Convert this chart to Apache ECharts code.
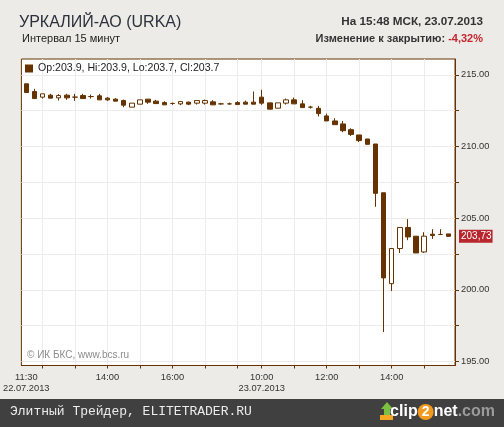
<!DOCTYPE html>
<html><head><meta charset="utf-8">
<script src="https://cdn.jsdelivr.net/npm/echarts@6/dist/echarts.min.js"></script>
<style>html,body{margin:0;padding:0;background:#ecebe7}#c{width:504px;height:427px}</style>
</head><body><div id="c"></div>
<script>
// ---- data ----
const times = ['11:30','11:45','12:00','12:15','12:30','12:45','13:00','13:15','13:30','13:45','14:00','14:15','14:30','14:45','15:00','15:15','15:30','15:45','16:00','16:15','16:30','16:45','17:00','17:15','17:30','17:45','18:00','18:15','18:30',
               '10:00','10:15','10:30','10:45','11:00','11:15','11:30','11:45','12:00','12:15','12:30','12:45','13:00','13:15','13:30','13:45','14:00','14:15','14:30','14:45','15:00','15:15','15:30','15:45'];
const opens  = [214.37,213.83,213.44,213.58,213.39,213.58,213.44,213.55,213.48,213.53,213.37,213.30,213.20,212.74,212.95,213.30,213.16,213.06,213.00,212.97,213.09,213.02,213.02,213.11,212.97,212.97,213.06,213.09,213.09,
                213.44,213.04,212.67,213.02,213.25,212.97,212.74,212.66,212.13,211.78,211.57,211.17,210.80,210.52,210.17,206.77,200.43,202.88,204.35,203.74,202.64,203.88,203.86,203.90];
const closes = [213.76,213.34,213.67,213.37,213.55,213.39,213.44,213.34,213.48,213.25,213.25,213.16,212.88,213.02,213.25,213.09,212.99,212.90,213.00,213.13,212.95,213.20,213.20,212.90,212.97,212.97,212.92,212.95,212.95,
                213.02,212.60,213.04,213.25,212.97,212.71,212.74,212.29,211.78,211.52,211.10,210.84,210.41,210.15,206.73,200.83,202.88,204.35,203.69,202.57,203.74,203.79,203.86,203.73];
const lows   = [213.76,213.34,213.34,213.37,213.20,213.25,213.18,213.34,213.34,213.25,213.18,213.16,212.74,212.74,212.95,212.97,212.99,212.90,212.90,212.88,212.88,212.92,212.92,212.90,212.92,212.92,212.92,212.95,212.95,
                212.90,212.60,212.67,212.92,212.97,212.71,212.64,212.09,211.78,211.52,210.99,210.73,210.31,210.15,205.79,197.05,199.92,202.57,203.46,202.57,202.57,203.55,203.86,203.70];
const highs  = [214.37,214.02,213.67,213.67,213.65,213.67,213.67,213.67,213.62,213.67,213.44,213.37,213.27,213.02,213.25,213.30,213.25,213.16,213.06,213.13,213.13,213.20,213.27,213.23,213.04,213.06,213.16,213.20,213.83,
                213.95,213.04,213.04,213.34,213.41,213.23,212.83,212.83,212.29,211.97,211.78,211.27,210.80,210.52,210.17,206.77,202.88,204.35,204.93,203.74,204.02,204.23,204.23,203.90];
const xLabelIdx = [0, 10, 18, 29, 37, 45];
const dateIdx = [0, 29];
const dateLabels = ['22.07.2013', '23.07.2013'];
const yTicks = [195, 197.5, 200, 202.5, 205, 207.5, 210, 212.5, 215];
const yLabels = [195, 200, 205, 210, 215];
const lastPrice = 203.73;
const lastPriceText = '203,73';
const legendText = 'Op:203.9, Hi:203.9, Lo:203.7, Cl:203.7';
const titleText = 'УРКАЛИЙ-АО (URKA)';
const intervalText = 'Интервал 15 минут';
const timeText = 'На 15:48 МСК, 23.07.2013';
const changeLabel = 'Изменение к закрытию: ';
const changeValue = '-4,32%';

// ---- build ----
const hourIdx = times.map((t, i) => t.endsWith(':00') ? i : -1).filter(i => i >= 0);
const candles = times.map((t, i) => [i, opens[i], closes[i], lows[i], highs[i]]);
const BROWN = '#663300';
const FONT = 'Liberation Sans';

const chart = echarts.init(document.getElementById('c'), null, {renderer: 'canvas'});
chart.setOption({
  animation: false,
  backgroundColor: '#ecebe7',
  title: [
    {text: titleText, left: 19, top: 15, padding: 0, textStyle: {fontFamily: FONT, fontSize: 16, fontWeight: 'normal', color: '#2c313b'}},
    {text: intervalText, left: 22, top: 33, padding: 0, textStyle: {fontFamily: FONT, fontSize: 11, fontWeight: 'normal', color: '#222'}},
    {text: timeText, right: 21, top: 16, padding: 0, textStyle: {fontFamily: FONT, fontSize: 11.7, fontWeight: 'bold', color: '#333'}},
    {text: '{a|' + changeLabel + '}{b|' + changeValue + '}', right: 21, top: 33, padding: 0,
     textStyle: {rich: {a: {fontFamily: FONT, fontSize: 11, color: '#333'}, b: {fontFamily: FONT, fontSize: 11, color: '#c4262e'}}}},
    {text: '© ИК БКС, www.bcs.ru', left: 27, top: 350, padding: 0, textStyle: {fontFamily: FONT, fontSize: 10, fontWeight: 'normal', color: '#8c8c8c'}},
    {text: 'Элитный Трейдер, ELITETRADER.RU', left: 10, top: 405, padding: 0, textStyle: {fontFamily: 'Liberation Mono', fontSize: 13, fontWeight: 'normal', color: '#ececec'}},
    {text: '{c|clip}{n|2}{d|net}{e|.com}', right: 9, top: 404, padding: 0,
     textStyle: {rich: {
       c: {fontFamily: FONT, fontSize: 16, fontWeight: 'bold', color: '#ffffff'},
       n: {fontFamily: FONT, fontSize: 14, fontWeight: 'bold', color: '#ffffff', backgroundColor: '#f39a1e', borderRadius: 8, width: 16, height: 16, align: 'center'},
       d: {fontFamily: FONT, fontSize: 16, fontWeight: 'bold', color: '#ffffff'},
       e: {fontFamily: FONT, fontSize: 16, fontWeight: 'bold', color: '#9a9a9a'}}}}
  ],
  graphic: [
    {type: 'rect', z: -1, shape: {x: 0, y: 399, width: 504, height: 28}, style: {fill: '#404040'}},
    {type: 'polygon', shape: {points: [[387, 402], [393, 409], [390, 409], [390, 415], [384, 415], [384, 409], [381, 409]]}, style: {fill: '#7bc043'}},
    {type: 'rect', shape: {x: 380, y: 415, width: 13, height: 5}, style: {fill: '#f5a623'}}
  ],
  legend: {
    left: 20, top: 58, padding: 5, itemWidth: 8, itemHeight: 8, itemGap: 5,
    textStyle: {fontFamily: FONT, fontSize: 10.6, color: '#222'},
    data: [{name: legendText, icon: 'rect', itemStyle: {color: BROWN, borderWidth: 0}}],
    selectedMode: false
  },
  grid: {left: 21, right: 49, top: 59, height: 306.5, show: true, backgroundColor: '#ffffff', borderColor: BROWN, borderWidth: 1},
  xAxis: {
    type: 'value', min: -0.6, max: 52.8,
    axisLine: {show: true, onZero: false, lineStyle: {color: BROWN, width: 1}},
    axisTick: {show: true, inside: false, length: 3, customValues: hourIdx, lineStyle: {color: BROWN}},
    axisLabel: {customValues: xLabelIdx, margin: 6, fontFamily: FONT, fontSize: 9.3, color: '#333', lineHeight: 11,
      formatter: v => { const i = Math.round(v); const d = dateIdx.indexOf(i); return times[i] + (d >= 0 ? '\n' + dateLabels[d] : ''); }},
    splitLine: {show: true, lineStyle: {color: '#ececec', width: 1}}
  },
  yAxis: {
    type: 'value', position: 'right', min: 194.72, max: 216.1,
    axisLine: {show: true, onZero: false, lineStyle: {color: BROWN, width: 1}},
    axisTick: {show: true, inside: false, length: 4, customValues: yTicks, lineStyle: {color: BROWN}},
    axisLabel: {customValues: yLabels, margin: 6, fontFamily: FONT, fontSize: 9.3, color: '#333', formatter: v => v.toFixed(2)},
    splitLine: {show: true, lineStyle: {color: '#ececec', width: 1}}
  },
  series: [{
    name: legendText,
    type: 'candlestick',
    data: candles,
    encode: {x: 0, y: [1, 2, 3, 4]},
    barWidth: 5,
    itemStyle: {color: '#ffffff', color0: BROWN, borderColor: BROWN, borderColor0: BROWN, borderColorDoji: BROWN, borderWidth: 1},
    markLine: {
      silent: true, symbol: ['none', 'none'],
      lineStyle: {width: 1, color: 'rgba(0,0,0,0)', type: 'solid'},
      data: [{yAxis: lastPrice}],
      label: {show: true, position: 'end', distance: 4, formatter: lastPriceText, color: '#ffffff', backgroundColor: '#b8262e',
              padding: [2, 1, 1, 2], fontFamily: FONT, fontSize: 10, opacity: 1}
    }
  }]
});
</script></body></html>
